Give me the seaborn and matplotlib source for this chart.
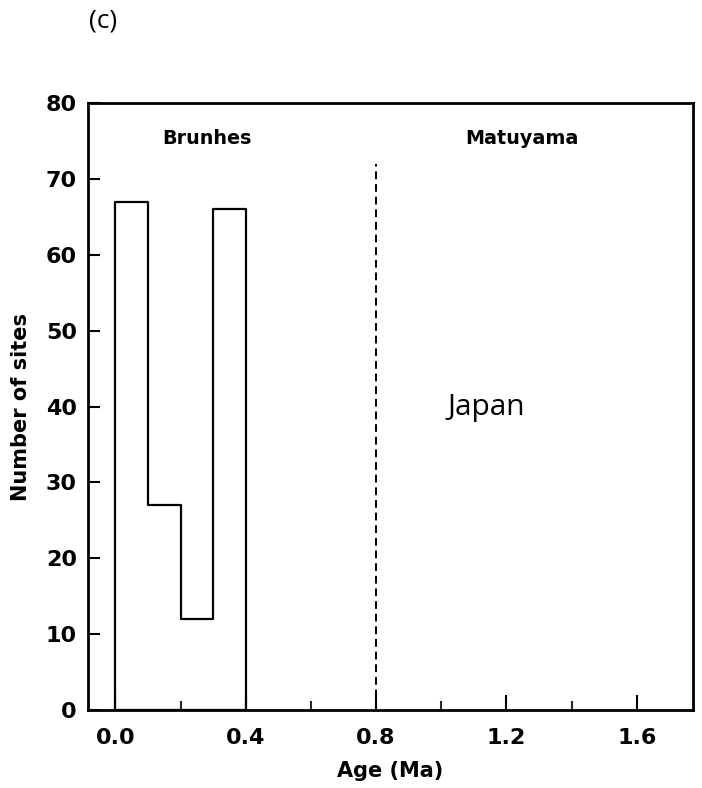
import matplotlib
matplotlib.use("Agg")
import matplotlib.pyplot as plt
import seaborn as sns
import pandas as pd

# Site counts per 0.1 Ma age bin
bin_left = [0.0, 0.1, 0.2, 0.3]
site_counts = [67, 27, 12, 66]
bin_edges = [0.0, 0.1, 0.2, 0.3, 0.4]

# Brunhes/Matuyama boundary
boundary_age = 0.8
boundary_top = 72

x_ticks = [0.0, 0.4, 0.8, 1.2, 1.6]
x_minor = [0.2, 0.6, 1.0, 1.4]
y_ticks = [0, 10, 20, 30, 40, 50, 60, 70, 80]

sns.set_theme(style="white")
plt.rcParams["font.family"] = ["DejaVu Sans"]
plt.rcParams["text.color"] = "black"
plt.rcParams["axes.labelcolor"] = "black"

df = pd.DataFrame({"age": [b + 0.05 for b in bin_left], "n": site_counts})

fig = plt.figure(figsize=(7.02, 7.88), dpi=100)
ax = fig.add_axes([0.1254, 0.099, 0.8616, 0.770])

sns.histplot(data=df, x="age", weights="n", bins=bin_edges, element="step",
             fill=True, color="black", facecolor="none", edgecolor="black",
             linewidth=1.6, ax=ax)

ax.plot([boundary_age, boundary_age], [0, boundary_top], color="black",
        linestyle=(0, (4, 2.5)), linewidth=1.4)

ax.set_xlim(-0.084, 1.772)
ax.set_ylim(0, 80)
ax.set_xticks(x_ticks)
ax.set_xticks(x_minor, minor=True)
ax.set_xticklabels([f"{t:.1f}" for t in x_ticks], fontsize=16, fontweight="bold")
ax.set_yticks(y_ticks)
ax.set_yticklabels([str(t) for t in y_ticks], fontsize=16, fontweight="bold")

ax.tick_params(axis="x", which="major", direction="in", length=11, width=1.5,
               pad=13, bottom=True, top=False, colors="black")
ax.tick_params(axis="x", which="minor", direction="in", length=6.5, width=1.5,
               bottom=True, top=False)
ax.tick_params(axis="y", which="major", direction="in", length=8.6, width=1.5,
               pad=8, left=True, right=False, colors="black")

for s in ax.spines.values():
    s.set_linewidth(2.0)
    s.set_color("black")

ax.set_xlabel("Age (Ma)", fontsize=15, fontweight="bold", labelpad=9)
ax.set_ylabel("Number of sites", fontsize=15, fontweight="bold", labelpad=11)

ax.text(0.197, 0.942, "Brunhes", transform=ax.transAxes, ha="center", va="center",
        fontsize=13.8, fontweight="bold")
ax.text(0.717, 0.942, "Matuyama", transform=ax.transAxes, ha="center", va="center",
        fontsize=13.8, fontweight="bold")
ax.text(1.02, 38.9, "Japan", ha="left", va="baseline", fontsize=21.5,
        family=["Open Sans", "DejaVu Sans"])

fig.text(103 / 702, 1 - 21 / 788, "(c)", ha="center", va="center", fontsize=19,
         family=["Open Sans", "DejaVu Sans"])

fig.savefig("out.png", dpi=100)
